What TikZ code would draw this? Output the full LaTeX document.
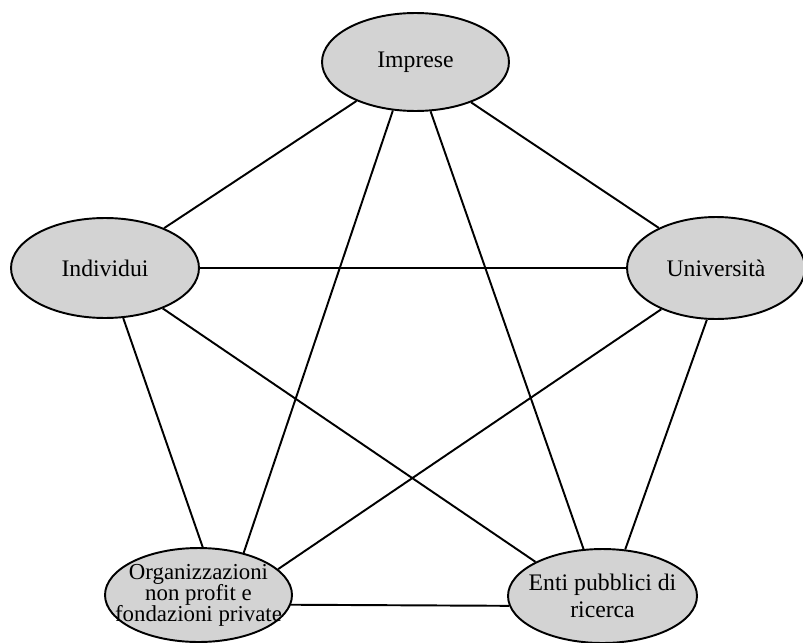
\documentclass[tikz,border=0pt]{standalone}
\usepackage{xcolor}
\usepackage{fontspec}
\setmainfont{Liberation Serif}
\usepackage{tikz}
\usetikzlibrary{shapes.geometric}
\definecolor{blobgray}{RGB}{211,211,211}

\begin{document}
\begin{tikzpicture}[x=0.02cm, y=-0.02cm]
\tikzstyle{actor}=[draw, ellipse, fill=blobgray, line width=1.1pt, inner sep=-12pt, align=center, font=\fontsize{13.5}{12}\selectfont]
\tikzstyle{link}=[line width=1.1pt]
\clip (0,0)--(0,642)--(803,642)--(803,0)--cycle;

\node[actor, minimum width=3.74cm, minimum height=1.96cm] (imp) at (415.5,62) {Imprese};
\node[actor, minimum width=3.76cm, minimum height=2.0cm] (ind) at (105,268) {Individui};
\node[actor, minimum width=3.56cm, minimum height=2.04cm] (uni) at (716,268) {Università};
\node[actor, minimum width=3.74cm, minimum height=1.88cm, font=\fontsize{13}{12}\selectfont] (org) at (198.5,595) {Organizzazioni\\non profit e\\fondazioni private};
\node[actor, minimum width=3.78cm, minimum height=1.88cm, font=\fontsize{13.5}{15}\selectfont] (ent) at (602.5,596) {Enti pubblici di\\ricerca};

\path[link]
(imp) edge (ind.34)
(imp.245) edge (org.43)
(imp.287) edge (ent.112)
(imp.324) edge (uni.145)
(ind) edge (uni)
(ind.290) edge (org.85)
(ind.325) edge (ent.153)
(uni.217) edge (org.18)
(uni.260) edge (ent.64)
(org.354) edge (ent.186);

\end{tikzpicture}
\end{document}
